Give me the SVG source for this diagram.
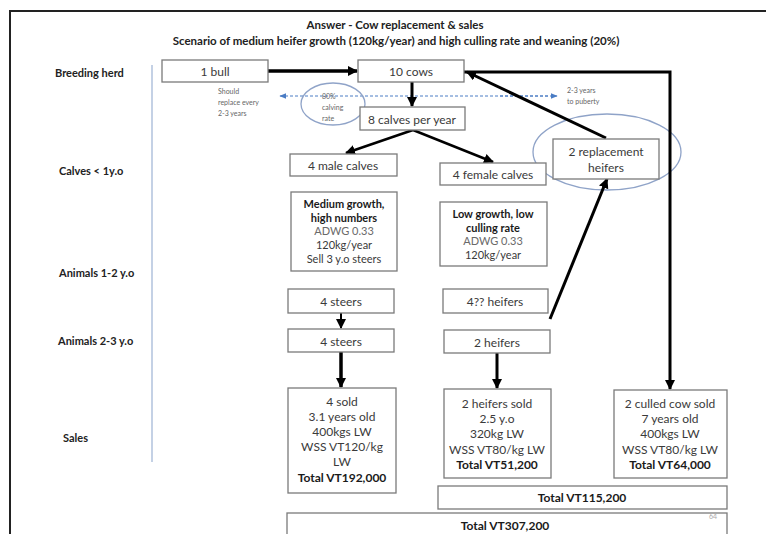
<svg xmlns="http://www.w3.org/2000/svg" width="766" height="534" viewBox="0 0 766 534">
  <style>
    .box { fill: #ffffff; stroke: #7a7a7a; stroke-width: 1.3; }
    .t { font-family: Lato, "Liberation Sans", Arial, sans-serif; fill: #3a3a3a; text-anchor: middle; dominant-baseline: central; }
    .n { font-size: 12px; }
    .s { font-size: 11px; }
    .b { font-weight: bold; fill: #1a1a1a; }
    .lt { fill: #6a6a6a; }
    .lbl { font-family: Lato, "Liberation Sans", Arial, sans-serif; font-size: 11px; font-weight: bold; fill: #222; dominant-baseline: central; }
    .note { font-family: Lato, "Liberation Sans", Arial, sans-serif; font-size: 7px; fill: #666; dominant-baseline: central; }
    .title { font-family: Lato, "Liberation Sans", Arial, sans-serif; font-size: 11.5px; font-weight: bold; fill: #222; text-anchor: middle; dominant-baseline: central; }
    .arr { stroke: #000; fill: none; marker-end: url(#head); }
    .ring { fill: none; stroke: #8fa3c8; stroke-width: 1.3; }
  </style>
  <defs>
    <marker id="head" viewBox="0 0 10 10" refX="9" refY="5" markerWidth="10" markerHeight="10" markerUnits="userSpaceOnUse" orient="auto">
      <path d="M0,0 L10,5 L0,10 z" fill="#000"/>
    </marker>
    <marker id="bhead" viewBox="0 0 10 10" refX="9" refY="5" markerWidth="7" markerHeight="7" markerUnits="userSpaceOnUse" orient="auto">
      <path d="M0,1 L10,5 L0,9 z" fill="#4a7cc4"/>
    </marker>
  </defs>

  <rect width="766" height="534" fill="#ffffff"/>

  <!-- page frame -->
  <path d="M10,534 L10,11 L766,11" fill="none" stroke="#222" stroke-width="2"/>

  <!-- heading -->
  <text class="title" x="395" y="24">Answer - Cow replacement &amp; sales</text>
  <text class="title" x="396" y="40" font-size="11px">Scenario of medium heifer growth (120kg/year) and high culling rate and weaning (20%)</text>

  <!-- row labels -->
  <g id="row-labels">
    <text class="lbl" x="55" y="72">Breeding herd</text>
    <text class="lbl" x="59" y="170">Calves &lt; 1y.o</text>
    <text class="lbl" x="59" y="272">Animals 1-2 y.o</text>
    <text class="lbl" x="58" y="340">Animals 2-3 y.o</text>
    <text class="lbl" x="63" y="437">Sales</text>
  </g>
  <line x1="152" y1="65" x2="152" y2="462" stroke="#b0c2dc" stroke-width="1.5"/>

  <!-- annotations -->
  <g id="annotations">
    <line x1="548" y1="96" x2="280" y2="96" stroke="#4a7cc4" stroke-width="1" stroke-dasharray="3 2" marker-end="url(#bhead)"/>
    <line x1="500" y1="96" x2="557" y2="96" stroke="#4a7cc4" stroke-width="1" stroke-dasharray="3 2" marker-end="url(#bhead)"/>
    <text class="note" x="218" y="91">Should</text>
    <text class="note" x="218" y="102">replace every</text>
    <text class="note" x="218" y="113">2-3 years</text>
    <text class="note" x="567" y="90">2-3 years</text>
    <text class="note" x="567" y="101">to puberty</text>
    <ellipse class="ring" cx="333" cy="104" rx="32" ry="21"/>
    <text class="note" x="322" y="96">80%</text>
    <text class="note" x="322" y="107">calving</text>
    <text class="note" x="322" y="118">rate</text>
    <ellipse class="ring" cx="607" cy="152" rx="74" ry="38"/>
  </g>

  <!-- connectors -->
  <g id="connectors">
    <line class="arr" x1="268" y1="71" x2="357" y2="71" stroke-width="3.5"/>
    <line class="arr" x1="412" y1="82" x2="412" y2="106" stroke-width="3"/>
    <line class="arr" x1="413" y1="130" x2="346" y2="153" stroke-width="2.5"/>
    <line class="arr" x1="413" y1="130" x2="493" y2="162" stroke-width="2.5"/>
    <line class="arr" x1="606" y1="138" x2="467" y2="72" stroke-width="3"/>
    <path class="arr" d="M464,72 L670,72 L670,389" stroke-width="3"/>
    <line class="arr" x1="550" y1="319" x2="607" y2="179" stroke-width="3"/>
    <line class="arr" x1="341" y1="313" x2="341" y2="328" stroke-width="2"/>
    <line class="arr" x1="341" y1="352" x2="341" y2="387" stroke-width="3.5"/>
    <line class="arr" x1="497" y1="353" x2="497" y2="388" stroke-width="3"/>
  </g>

  <!-- nodes -->
  <g id="bull">
    <rect class="box" x="162" y="60" width="106" height="22"/>
    <text class="t n" x="215" y="71">1 bull</text>
  </g>
  <g id="cows">
    <rect class="box" x="358" y="60" width="106" height="22"/>
    <text class="t n" x="411" y="71">10 cows</text>
  </g>
  <g id="calves">
    <rect class="box" x="360" y="107" width="105" height="23"/>
    <text class="t n" x="412" y="119">8 calves per year</text>
  </g>
  <g id="male-calves">
    <rect class="box" x="290" y="154" width="107" height="22"/>
    <text class="t n" x="343" y="165">4 male calves</text>
  </g>
  <g id="female-calves">
    <rect class="box" x="440" y="163" width="106" height="22"/>
    <text class="t n" x="493" y="174">4 female calves</text>
  </g>
  <g id="replacement-heifers">
    <rect class="box" x="553" y="139" width="106" height="40"/>
    <text class="t n" x="606" y="151">2 replacement</text>
    <text class="t n" x="606" y="167">heifers</text>
  </g>
  <g id="steer-growth">
    <rect class="box" x="291" y="192" width="106" height="79"/>
    <text class="t s b" x="344" y="203">Medium growth,</text>
    <text class="t s b" x="344" y="217">high numbers</text>
    <text class="t s lt" x="344" y="230">ADWG 0.33</text>
    <text class="t s" x="344" y="244">120kg/year</text>
    <text class="t s" x="344" y="258">Sell 3 y.o steers</text>
  </g>
  <g id="heifer-growth">
    <rect class="box" x="440" y="202" width="107" height="64"/>
    <text class="t s b" x="493" y="213">Low growth, low</text>
    <text class="t s b" x="493" y="227">culling rate</text>
    <text class="t s lt" x="493" y="240">ADWG 0.33</text>
    <text class="t s" x="493" y="254">120kg/year</text>
  </g>
  <g id="steers-1-2">
    <rect class="box" x="288" y="289" width="106" height="24"/>
    <text class="t n" x="341" y="301">4 steers</text>
  </g>
  <g id="heifers-1-2">
    <rect class="box" x="443" y="289" width="105" height="24"/>
    <text class="t n" x="495" y="301">4?? heifers</text>
  </g>
  <g id="steers-2-3">
    <rect class="box" x="288" y="329" width="106" height="23"/>
    <text class="t n" x="341" y="341">4 steers</text>
  </g>
  <g id="heifers-2-3">
    <rect class="box" x="444" y="330" width="106" height="23"/>
    <text class="t n" x="497" y="342">2 heifers</text>
  </g>
  <g id="steer-sales">
    <rect class="box" x="288" y="388" width="108" height="105"/>
    <text class="t n" x="342" y="401">4 sold</text>
    <text class="t n" x="342" y="416">3.1 years old</text>
    <text class="t n" x="342" y="431">400kgs LW</text>
    <text class="t n" x="342" y="446">WSS VT120/kg</text>
    <text class="t n" x="342" y="461">LW</text>
    <text class="t n b" x="342" y="477">Total VT192,000</text>
  </g>
  <g id="heifer-sales">
    <rect class="box" x="444" y="389" width="107" height="89"/>
    <text class="t n" x="497" y="403">2 heifers sold</text>
    <text class="t n" x="497" y="418">2.5 y.o</text>
    <text class="t n" x="497" y="433">320kg LW</text>
    <text class="t n" x="497" y="449">WSS VT80/kg LW</text>
    <text class="t n b" x="497" y="464">Total VT51,200</text>
  </g>
  <g id="cow-sales">
    <rect class="box" x="614" y="390" width="113" height="88"/>
    <text class="t n" x="670" y="403">2 culled cow sold</text>
    <text class="t n" x="670" y="418">7 years old</text>
    <text class="t n" x="670" y="433">400kgs LW</text>
    <text class="t n" x="670" y="449">WSS VT80/kg LW</text>
    <text class="t n b" x="670" y="464">Total VT64,000</text>
  </g>
  <g id="subtotal">
    <rect class="box" x="438" y="486" width="289" height="23"/>
    <text class="t n b" x="582" y="497">Total VT115,200</text>
  </g>
  <g id="grand-total">
    <rect class="box" x="287" y="513" width="440" height="30"/>
    <text class="t n b" x="505" y="525">Total VT307,200</text>
  </g>
  <text x="713" y="516" font-family="Lato, 'Liberation Sans', sans-serif" font-size="7" fill="#aaa" text-anchor="middle" dominant-baseline="central">64</text>
</svg>
